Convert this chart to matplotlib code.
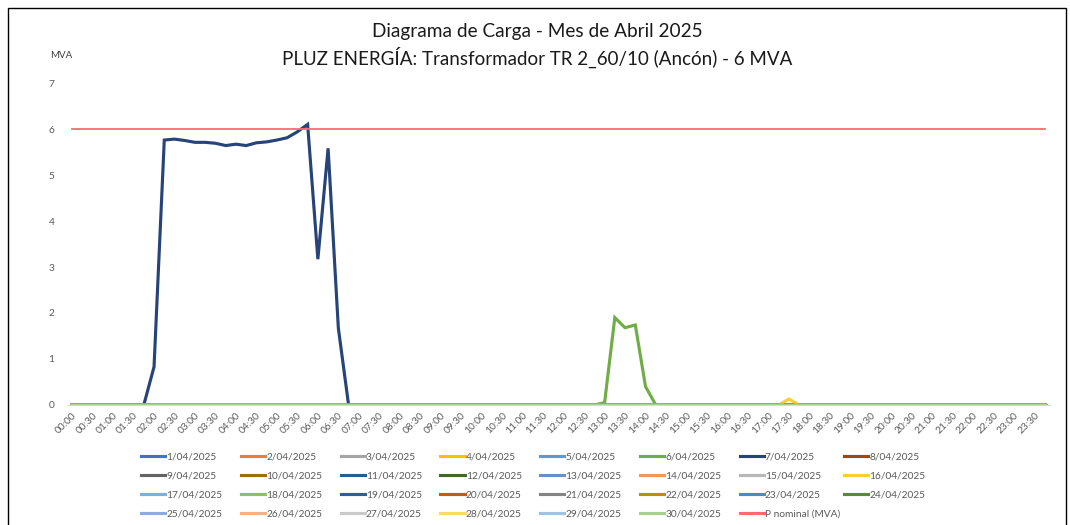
import matplotlib
matplotlib.use("Agg")
import matplotlib.pyplot as plt
from matplotlib.patches import Rectangle

plt.rcParams['font.family'] = ['Lato', 'DejaVu Sans']

# 15-minute intervals for one day, labels every 30 min
times = [f"{h:02d}:{m:02d}" for h in range(24) for m in (0, 15, 30, 45)]
tick_labels = times[::2]

day_labels = [f"{d}/04/2025" for d in range(1, 31)]

# only three days carry load, the rest sit at zero
load_06 = [0] * 52 + [0.05, 1.90, 1.68, 1.74, 0.40] + [0] * 39
load_07 = [0] * 8 + [0.83, 5.76, 5.78, 5.75, 5.71, 5.71, 5.69, 5.64, 5.67, 5.64,
                     5.70, 5.72, 5.76, 5.81, 5.94, 6.10, 3.17, 5.58, 1.67] + [0] * 69
load_16 = [0] * 70 + [0.13] + [0] * 25
zeros = [0] * 96

p_nominal = 6

colors = ['#4472C4', '#ED7D31', '#A5A5A5', '#FFC000', '#5B9BD5', '#70AD47',
          '#264478', '#9E480E', '#636363', '#997300', '#255E91', '#43682B',
          '#698ED0', '#F1975A', '#B7B7B7', '#FFCD33', '#7CAFDD', '#8CC168',
          '#335AA1', '#C55A11', '#848484', '#BF8F00', '#4B89C8', '#5A8A39',
          '#8FAADC', '#F4B183', '#C9C9C9', '#FFD966', '#9DC3E6', '#A9D18E']

fig = plt.figure(figsize=(10.7, 5.25), dpi=100)
ax = fig.add_axes([67 / 1070, 120 / 525, 983 / 1070, 322 / 525])

x = list(range(len(times)))
for i, lab in enumerate(day_labels):
    if i == 5:
        vals = load_06
    elif i == 6:
        vals = load_07
    elif i == 15:
        vals = load_16
    else:
        vals = zeros
    ax.plot(x, vals, color=colors[i], lw=2.25, label=lab, solid_joinstyle='miter')

ax.plot(x, [p_nominal] * len(x), color='#FF6B6B', lw=1.3, label='P nominal (MVA)')

ax.set_xlim(-0.5, len(times) - 0.5)
ax.set_ylim(0, 7)
ax.set_xticks(x[::2])
ax.set_xticklabels(tick_labels, rotation=45, ha='right', va='top',
                   rotation_mode='anchor', fontsize=7.3, color='#595959')
ax.set_yticks(range(0, 8))
ax.tick_params(axis='y', labelsize=7.3, labelcolor='#595959', length=0, pad=9)
ax.tick_params(axis='x', length=0, pad=4)
for s in ['top', 'right', 'left']:
    ax.spines[s].set_visible(False)
ax.spines['bottom'].set_color('#D9D9D9')
ax.spines['bottom'].set_linewidth(0.75)

fig.text(61 / 1070, 1 - 55 / 525, 'MVA', fontsize=7, color='#404040',
         ha='center', va='center')

fig.text(537 / 1070, 1 - 31 / 525, 'Diagrama de Carga - Mes de Abril 2025',
         fontsize=13.7, ha='center', va='center', color='#1a1a1a')
fig.text(537 / 1070, 1 - 57 / 525,
         'PLUZ ENERGÍA: Transformador TR 2_60/10 (Ancón) - 6 MVA',
         fontsize=13.5, ha='center', va='center', color='#1a1a1a')

# legend reads row by row, like the original; the 8th column is a separate
# legend so the wide "P nominal" entry does not push it to the right
handles, labels = ax.get_legend_handles_labels()
ncol = 8
leg_kw = dict(frameon=False, fontsize=7.3, handlelength=2.4,
              handletextpad=0.1, columnspacing=1.8, labelspacing=1.0,
              borderpad=0, loc='upper left')
main_order = [c + ncol * r for c in range(ncol - 1) for r in range(4)
              if c + ncol * r < len(handles)]
last_order = [ncol - 1 + ncol * r for r in range(4)
              if ncol - 1 + ncol * r < len(handles)]
leg1 = fig.legend([handles[k] for k in main_order],
                  [labels[k] for k in main_order], ncols=ncol - 1,
                  bbox_to_anchor=(136 / 1070, 1 - 447 / 525), **leg_kw)
leg2 = fig.legend([handles[k] for k in last_order],
                  [labels[k] for k in last_order], ncols=1,
                  bbox_to_anchor=(839 / 1070, 1 - 447 / 525), **leg_kw)
for leg in (leg1, leg2):
    for t in leg.get_texts():
        t.set_color('#595959')
    for h in leg.get_lines():
        h.set_linewidth(2.25)

fig.patches.append(Rectangle((8 / 1070, -0.1), 1058 / 1070, 517 / 525 + 0.1,
                             transform=fig.transFigure, fill=False,
                             ec='black', lw=1))

fig.savefig('out.png', dpi=100)
